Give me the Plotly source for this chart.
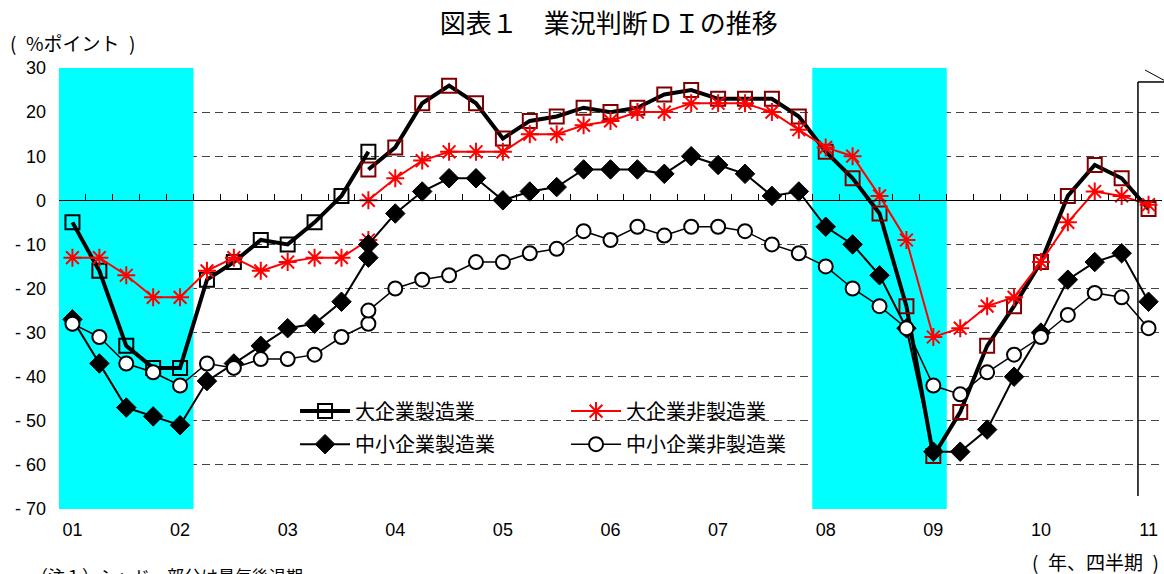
import plotly.graph_objects as go

# Quarter index: 0 = 2001Q1 ... 40 = 2011Q1
quarters = list(range(41))
year_ticks = list(range(0, 41, 4))
year_labels = ["01", "02", "03", "04", "05", "06", "07", "08", "09", "10", "11"]

y_ticks = [-70, -60, -50, -40, -30, -20, -10, 0, 10, 20, 30]
y_labels = ["- 70", "- 60", "- 50", "- 40", "- 30", "- 20", "- 10", "0", "10", "20", "30"]

# Old sample basis: 2001Q1-2003Q4 (index 0..11)
large_mfg_old = [-5, -16, -33, -38, -38, -18, -14, -9, -10, -5, 1, 11]
large_nonmfg_old = [-13, -13, -17, -22, -22, -16, -13, -16, -14, -13, -13, -9]
small_mfg_old = [-27, -37, -47, -49, -51, -41, -37, -33, -29, -28, -23, -13]
small_nonmfg_old = [-28, -31, -37, -39, -42, -37, -38, -36, -36, -35, -31, -28]

# New sample basis: 2003Q4-2011Q1 (index 11..40)
large_mfg_new = [7, 12, 22, 26, 22, 14, 18, 19, 21, 20, 21, 24, 25, 23, 23,
                 23, 19, 11, 5, -3, -24, -58, -48, -33, -24, -14, 1, 8, 5, -2]
large_nonmfg_new = [0, 5, 9, 11, 11, 11, 15, 15, 17, 18, 20, 20, 22, 22, 22,
                    20, 16, 12, 10, 1, -9, -31, -29, -24, -22, -14, -5, 2, 1, -1]
small_mfg_new = [-10, -3, 2, 5, 5, 0, 2, 3, 7, 7, 7, 6, 10, 8, 6,
                 1, 2, -6, -10, -17, -29, -57, -57, -52, -40, -30, -18, -14, -12, -23]
small_nonmfg_new = [-25, -20, -18, -17, -14, -14, -12, -11, -7, -9, -6, -8, -6, -6, -7,
                    -10, -12, -15, -20, -24, -29, -42, -44, -39, -35, -31, -26, -21, -22, -29]

# Recession periods (first and last quarter index)
recessions = [(0, 4), (28, 32)]

x_old = quarters[0:12]
x_new = quarters[11:41]

JP = "Noto Sans CJK JP"
NUM = "Liberation Sans"

fig = go.Figure()

series = [
    dict(name="大企業製造業", old=large_mfg_old, new=large_mfg_new, legend="legend",
         line=dict(color="black", width=4),
         m_old=dict(symbol="square-open", size=14, color="black", line=dict(width=2, color="black")),
         m_new=dict(symbol="square-open", size=14, color="#800000", line=dict(width=2, color="#800000"))),
    dict(name="大企業非製造業", old=large_nonmfg_old, new=large_nonmfg_new, legend="legend",
         line=dict(color="#FF0000", width=2),
         m_old=dict(symbol="asterisk-open", size=15, color="#FF0000", line=dict(width=2, color="#FF0000")),
         m_new=dict(symbol="asterisk-open", size=15, color="#FF0000", line=dict(width=2, color="#FF0000"))),
    dict(name="中小企業製造業", old=small_mfg_old, new=small_mfg_new, legend="legend2",
         line=dict(color="black", width=2),
         m_old=dict(symbol="diamond", size=15, color="black", line=dict(width=1, color="black")),
         m_new=dict(symbol="diamond", size=15, color="black", line=dict(width=1, color="black"))),
    dict(name="中小企業非製造業", old=small_nonmfg_old, new=small_nonmfg_new, legend="legend2",
         line=dict(color="black", width=1.5),
         m_old=dict(symbol="circle", size=14, color="white", line=dict(width=2, color="black")),
         m_new=dict(symbol="circle", size=14, color="white", line=dict(width=2, color="black"))),
]

for s in series:
    fig.add_trace(go.Scatter(
        x=x_old, y=s["old"], mode="lines+markers", name=s["name"],
        legendgroup=s["name"], legend=s["legend"], line=s["line"], marker=s["m_old"],
        cliponaxis=False))
    fig.add_trace(go.Scatter(
        x=x_new, y=s["new"], mode="lines+markers", name=s["name"],
        legendgroup=s["name"], legend=s["legend"], showlegend=False,
        line=s["line"], marker=s["m_new"], cliponaxis=False))

# Carrier trace for the zero-line axis with quarter ticks
fig.add_trace(go.Scatter(x=[0], y=[None], xaxis="x2", showlegend=False, hoverinfo="skip"))

shapes = []
for a, b in recessions:
    shapes.append(dict(type="rect", xref="x", yref="y", x0=a - 0.5, x1=b + 0.5,
                       y0=-70, y1=30, fillcolor="#00FFFF", line=dict(width=0), layer="between"))
# Legend backdrop
shapes.append(dict(type="rect", xref="paper", yref="paper", x0=0.2004, x1=0.6872,
                   y0=0.1066, y1=0.263, fillcolor="white", line=dict(width=0), layer="between"))
# Forecast separator with callout
shapes.append(dict(type="line", xref="paper", yref="paper", x0=0.9782, x1=0.9782,
                   y0=0.0295, y1=0.9683, line=dict(color="black", width=1.5), layer="above"))
shapes.append(dict(type="line", xref="paper", yref="paper", x0=0.9782, x1=1.003,
                   y0=0.9683, y1=0.9683, line=dict(color="black", width=1.5), layer="above"))
shapes.append(dict(type="line", xref="paper", yref="paper", x0=0.9846, x1=1.003,
                   y0=0.9955, y1=0.9705, line=dict(color="black", width=1), layer="above"))

annotations = [
    dict(text="(\u2002%ポイント\u2002)", xref="paper", yref="paper", x=-0.046, y=1.0567,
         xanchor="left", yanchor="middle", showarrow=False, font=dict(family=JP, size=19, color="black")),
    dict(text="(\u2002年、四半期\u2002)", xref="paper", yref="paper", x=0.999, y=-0.118,
         xanchor="right", yanchor="middle", showarrow=False, font=dict(family=JP, size=19, color="black")),
    dict(text="（注１）シャドー部分は景気後退期", xref="paper", yref="paper", x=-0.027, y=-0.118,
         xanchor="left", yanchor="top", showarrow=False, font=dict(family=JP, size=17, color="black")),
]

fig.update_layout(
    width=1164, height=574,
    margin=dict(l=59, r=2, t=68, b=65),
    paper_bgcolor="white", plot_bgcolor="white",
    title=dict(text="図表１　業況判断ＤＩの推移", x=0.523, xanchor="center",
               y=0.958, yanchor="middle", font=dict(family=JP, size=26, color="black")),
    xaxis=dict(range=[-0.5, 40.5], tickvals=year_ticks, ticktext=year_labels,
               showgrid=False, zeroline=False, showline=False, ticks="",
               ticklabelstandoff=8, tickfont=dict(family=NUM, size=18, color="black")),
    xaxis2=dict(range=[-0.5, 40.5], overlaying="x", anchor="free", position=0.7,
                side="bottom", showline=True, linecolor="black", linewidth=1,
                tickvals=[q - 0.5 for q in quarters] + [40.5], ticks="inside", ticklen=6,
                tickcolor="black", tickwidth=1, showticklabels=False,
                showgrid=False, zeroline=False),
    yaxis=dict(range=[-70, 30], tickvals=y_ticks, ticktext=y_labels,
               showgrid=True, gridcolor="#444444", griddash="8px,5px", gridwidth=1,
               zeroline=False, showline=False, ticks="", ticklabelstandoff=12,
               tickfont=dict(family=NUM, size=18, color="black")),
    legend=dict(orientation="h", x=0.214, xanchor="left", y=0.222, yanchor="middle",
                bgcolor="rgba(0,0,0,0)", entrywidth=206, entrywidthmode="pixels",
                itemwidth=50, font=dict(family=JP, size=20, color="black"), traceorder="normal"),
    legend2=dict(orientation="h", x=0.214, xanchor="left", y=0.147, yanchor="middle",
                 bgcolor="rgba(0,0,0,0)", entrywidth=206, entrywidthmode="pixels",
                 itemwidth=50, font=dict(family=JP, size=20, color="black"), traceorder="normal"),
    shapes=shapes,
    annotations=annotations,
    showlegend=True,
)

fig.write_html("out.html")
